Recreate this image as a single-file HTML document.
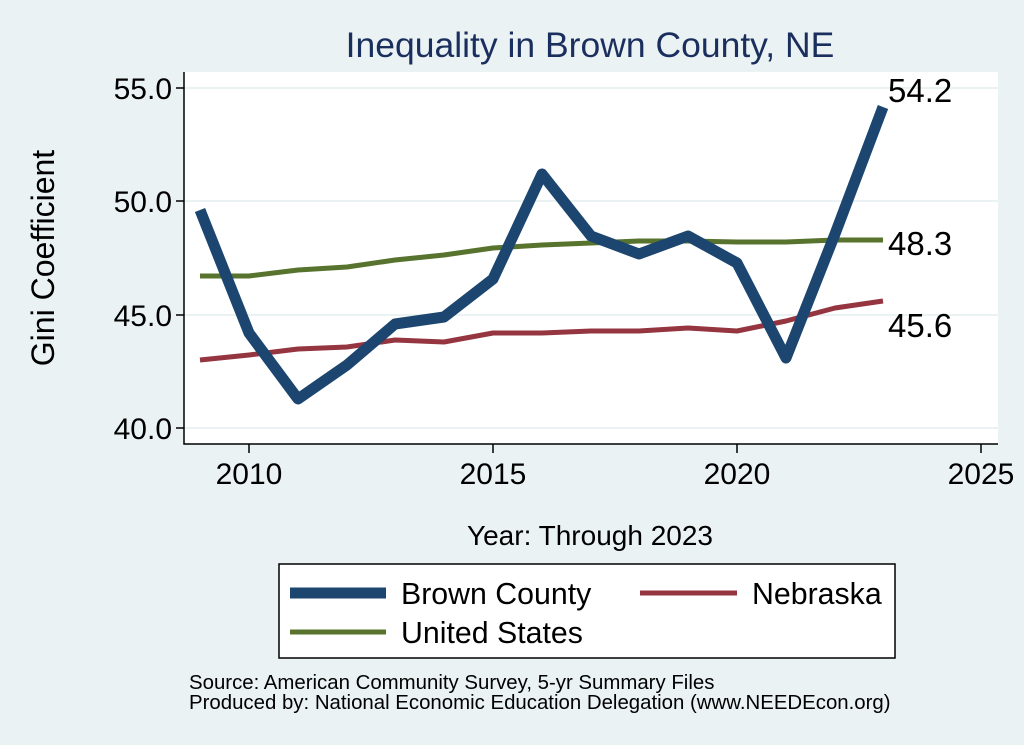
<!DOCTYPE html><html><head><style>body{margin:0;background:#eaf2f3;}svg{display:block;font-family:"Liberation Sans",Arial,sans-serif;}</style></head><body>
<svg width="1024" height="745" viewBox="0 0 1024 745">
<rect width="1024" height="745" fill="#eaf2f3"/>
<rect x="184" y="72" width="814" height="372" fill="#fff"/>
<g stroke="#eaf2f3" stroke-width="2"><line x1="184" x2="998" y1="88" y2="88"/><line x1="184" x2="998" y1="201" y2="201"/><line x1="184" x2="998" y1="315" y2="315"/><line x1="184" x2="998" y1="428" y2="428"/></g>
<g stroke="#000" stroke-width="1.5" fill="none"><polyline points="184,72 184,444 998,444"/>
<line x1="176" x2="184" y1="88" y2="88"/><line x1="176" x2="184" y1="201" y2="201"/><line x1="176" x2="184" y1="315" y2="315"/><line x1="176" x2="184" y1="428" y2="428"/>
<line x1="249" x2="249" y1="444" y2="453"/><line x1="493" x2="493" y1="444" y2="453"/><line x1="737" x2="737" y1="444" y2="453"/><line x1="981" x2="981" y1="444" y2="453"/></g>
<g font-size="30" text-anchor="end" fill="#000"><text x="172" y="99">55.0</text><text x="172" y="212">50.0</text><text x="172" y="326">45.0</text><text x="172" y="439">40.0</text></g>
<g font-size="30" text-anchor="middle"><text x="249" y="484">2010</text><text x="493" y="484">2015</text><text x="737" y="484">2020</text><text x="981" y="484">2025</text></g>
<text x="590" y="57" font-size="35.5" text-anchor="middle" fill="#1a2f5e">Inequality in Brown County, NE</text>
<text transform="translate(54,258) rotate(-90)" font-size="32" text-anchor="middle">Gini Coefficient</text>
<text x="590" y="545" font-size="28" text-anchor="middle">Year: Through 2023</text>
<g fill="none" stroke-linejoin="round">
<polyline stroke="#57732e" stroke-width="5" points="200,276 249,276 298,270 347,267 395,260 444,255 493,248 542,245 591,243 639,241 688,241 737,242 786,242 835,240 883,240"/>
<polyline stroke="#943540" stroke-width="5" points="200,360 249,355 298,349 347,347 395,340 444,342 493,333 542,333 591,331 639,331 688,328 737,331 786,321 835,308 883,301"/>
<polyline stroke="#1c466f" stroke-width="11" points="200,210 249,333 298,399 347,365 395,324 444,317 493,279 542,174 591,236 639,254 688,236 737,263 786,358 835,234 883,107"/>
</g>
<g font-size="33"><text x="888" y="102">54.2</text><text x="888" y="255">48.3</text><text x="888" y="337">45.6</text></g>
<rect x="279" y="564" width="616" height="94" fill="#fff" stroke="#000" stroke-width="1.5"/>
<line x1="290" x2="386" y1="593" y2="593" stroke="#1c466f" stroke-width="11"/>
<text x="401" y="604" font-size="30.3">Brown County</text>
<line x1="640" x2="737" y1="593" y2="593" stroke="#943540" stroke-width="5"/>
<text x="752" y="604" font-size="30.3">Nebraska</text>
<line x1="290" x2="386" y1="632" y2="632" stroke="#57732e" stroke-width="5"/>
<text x="401" y="643" font-size="30.3">United States</text>
<text x="189" y="689" font-size="20.4">Source: American Community Survey, 5-yr Summary Files</text>
<text x="189" y="709" font-size="20.4">Produced by: National Economic Education Delegation (www.NEEDEcon.org)</text>
</svg></body></html>
